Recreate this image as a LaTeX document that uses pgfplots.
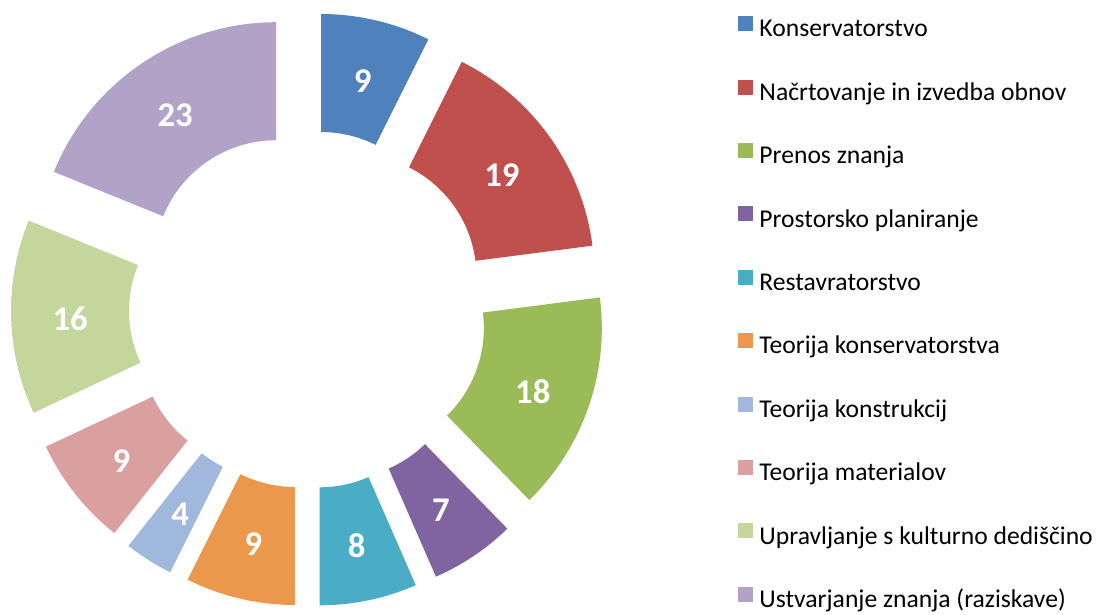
\documentclass[border=0pt]{standalone}
\usepackage{pgfplots}
\pgfplotsset{compat=1.18}
\usepackage{pgfplotstable}
\usepackage{fontspec}
\setmainfont{Carlito}
\definecolor{c1}{HTML}{4F81BD}
\definecolor{c2}{HTML}{C0504D}
\definecolor{c3}{HTML}{9BBB59}
\definecolor{c4}{HTML}{8064A2}
\definecolor{c5}{HTML}{4BACC6}
\definecolor{c6}{HTML}{EB984C}
\definecolor{c7}{HTML}{A0B8DB}
\definecolor{c8}{HTML}{DAA09F}
\definecolor{c9}{HTML}{C3D69B}
\definecolor{c10}{HTML}{B3A2C7}

\pgfplotstableread{
value color
9 c1
19 c2
18 c3
7 c4
8 c5
9 c6
4 c7
9 c8
16 c9
23 c10
}\donut

\begin{document}
\begin{tikzpicture}
\begin{axis}[
  name=ax,
  x=0.75pt, y=0.75pt,
  xmin=0, xmax=1103, ymin=0, ymax=614,
  hide axis, clip=false,
  legend cell align=left,
  legend style={at={(axis cs:738,598)}, anchor=north west, draw=none, fill=none,
    inner sep=0pt, row sep=29.6pt, column sep=5pt,
    font=\fontsize{19.2}{21}\selectfont,
    nodes={inner sep=0pt, text height=13pt, text depth=2.5pt}},
  legend image code/.code={\fill[#1] (0pt,-0.5pt) rectangle (10.5pt,10pt);},
]
\pgfplotstablegetrowsof{\donut}
\pgfmathtruncatemacro{\nrows}{\pgfplotsretval-1}
\def\total{0}
\pgfplotsforeachungrouped \i in {0,...,\nrows}{%
  \pgfplotstablegetelem{\i}{value}\of\donut
  \pgfmathsetmacro{\total}{\total+\pgfplotsretval}%
}
\def\cum{0}
\pgfplotsforeachungrouped \i in {0,...,\nrows}{%
  \pgfplotstablegetelem{\i}{value}\of\donut
  \let\val\pgfplotsretval
  \pgfplotstablegetelem{\i}{color}\of\donut
  \let\col\pgfplotsretval
  \pgfmathsetmacro{\ta}{90-360*(\cum/\total)}%
  \pgfmathsetmacro{\cum}{\cum+\val}%
  \pgfmathsetmacro{\tb}{90-360*(\cum/\total)}%
  \pgfmathsetmacro{\tm}{(\ta+\tb)/2}%
  \pgfmathsetmacro{\cxx}{308+57*cos(\tm)}%
  \pgfmathsetmacro{\cyy}{304.5+57*sin(\tm)}%
  \pgfmathsetmacro{\lx}{\cxx+181*cos(\tm)}%
  \pgfmathsetmacro{\ly}{\cyy+181*sin(\tm)-3.5}%
  \edef\tmp{\noexpand\fill[\col, shift={(axis cs:\cxx,\cyy)}] (\ta:180pt) arc[start angle=\ta, end angle=\tb, radius=180pt] -- (\tb:91.5pt) arc[start angle=\tb, end angle=\ta, radius=91.5pt] -- cycle;
  \noexpand\node[text=white, font={\noexpand\bfseries\noexpand\fontsize{26}{30}\noexpand\selectfont}] at (axis cs:\lx,\ly) {\val};}%
  \tmp
}
\addlegendimage{c1}\addlegendentry{Konservatorstvo}
\addlegendimage{c2}\addlegendentry{Načrtovanje in izvedba obnov}
\addlegendimage{c3}\addlegendentry{Prenos znanja}
\addlegendimage{c4}\addlegendentry{Prostorsko planiranje}
\addlegendimage{c5}\addlegendentry{Restavratorstvo}
\addlegendimage{c6}\addlegendentry{Teorija konservatorstva}
\addlegendimage{c7}\addlegendentry{Teorija konstrukcij}
\addlegendimage{c8}\addlegendentry{Teorija materialov}
\addlegendimage{c9}\addlegendentry{Upravljanje s kulturno dediščino}
\addlegendimage{c10}\addlegendentry{Ustvarjanje znanja (raziskave)}
\end{axis}
\pgfresetboundingbox
\path[use as bounding box] (ax.south west) rectangle (ax.north east);
\end{tikzpicture}
\end{document}
